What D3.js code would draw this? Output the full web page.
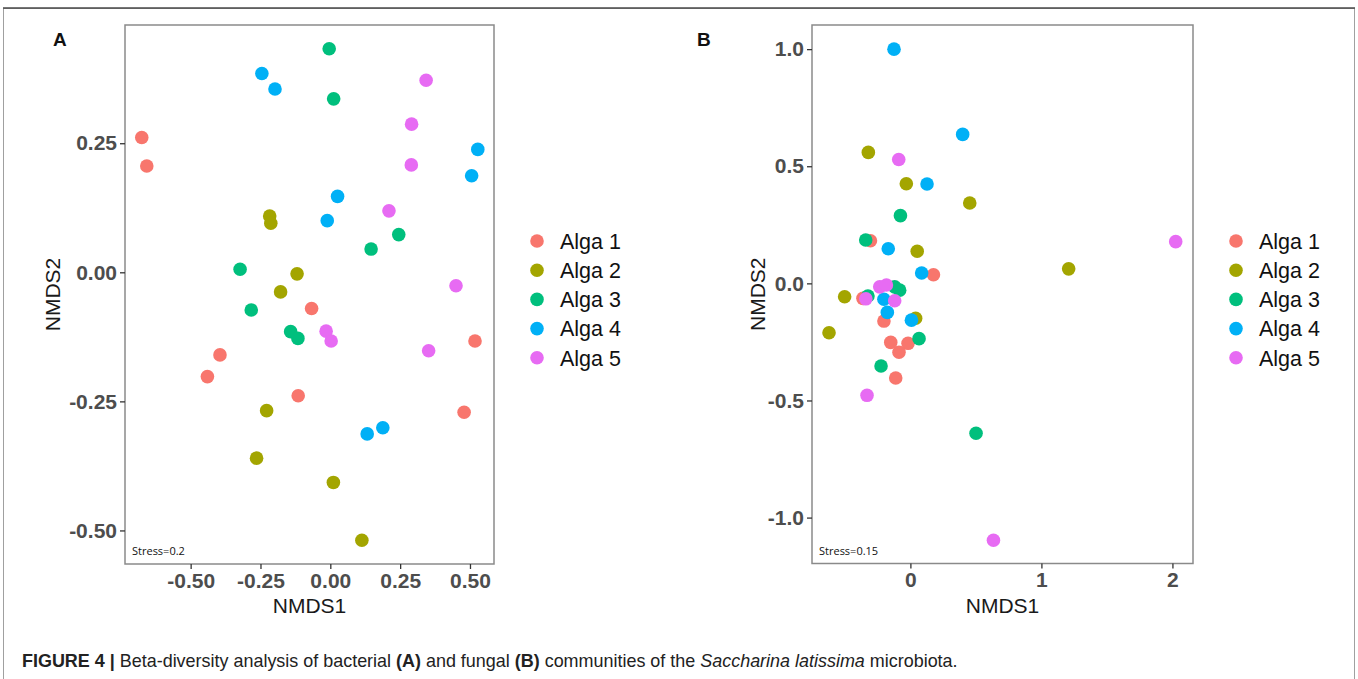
<!DOCTYPE html>
<html>
<head>
<meta charset="utf-8">
<script src="https://cdn.jsdelivr.net/npm/d3@7/dist/d3.min.js"></script>
<style>
  html, body { margin: 0; padding: 0; background: #fff; }
  svg { display: block; }
</style>
</head>
<body>
<svg id="chart" width="1358" height="679"></svg>
<script>
// ---------------- DATA ----------------
const groups = ["Alga 1", "Alga 2", "Alga 3", "Alga 4", "Alga 5"];
const colors = ["#F8766D", "#A3A500", "#00BF7D", "#00B0F6", "#E76BF3"];

// Panel A (bacterial) NMDS1, NMDS2
const bactAlga1 = [[-0.675,0.261],[-0.657,0.206],[-0.067,-0.070],[-0.395,-0.160],[-0.440,-0.202],[-0.115,-0.239],[0.518,-0.133],[0.479,-0.271]];
const bactAlga2 = [[-0.217,0.109],[-0.213,0.095],[-0.119,-0.003],[-0.178,-0.038],[-0.228,-0.268],[-0.264,-0.360],[0.011,-0.407],[0.113,-0.519]];
const bactAlga3 = [[-0.004,0.433],[0.012,0.336],[0.245,0.073],[0.146,0.045],[-0.323,0.006],[-0.283,-0.073],[-0.142,-0.115],[-0.116,-0.128]];
const bactAlga4 = [[-0.245,0.385],[-0.198,0.355],[0.528,0.238],[0.506,0.187],[0.026,0.147],[-0.011,0.100],[0.132,-0.313],[0.188,-0.301]];
const bactAlga5 = [[0.343,0.372],[0.291,0.287],[0.290,0.208],[0.210,0.119],[0.450,-0.026],[-0.015,-0.114],[0.003,-0.133],[0.352,-0.152]];

// Panel B (fungal) NMDS1, NMDS2
const fungAlga1 = [[-0.305,0.182],[0.176,0.037],[-0.362,-0.064],[-0.202,-0.161],[-0.150,-0.252],[-0.018,-0.256],[-0.087,-0.294],[-0.112,-0.404]];
const fungAlga2 = [[-0.321,0.559],[-0.031,0.425],[0.453,0.343],[0.052,0.137],[1.208,0.062],[-0.502,-0.057],[-0.621,-0.211],[0.040,-0.149]];
const fungAlga3 = [[-0.076,0.289],[-0.341,0.185],[-0.120,-0.015],[-0.082,-0.029],[-0.324,-0.054],[0.066,-0.236],[-0.224,-0.353],[0.501,-0.640]];
const fungAlga4 = [[-0.125,1.000],[0.399,0.636],[0.127,0.424],[-0.169,0.148],[0.086,0.044],[-0.202,-0.068],[-0.176,-0.124],[0.008,-0.157]];
const fungAlga5 = [[-0.340,-0.066],[-0.089,0.529],[2.025,0.178],[-0.234,-0.015],[-0.183,-0.007],[-0.120,-0.074],[-0.331,-0.478],[0.634,-1.097]];

const xTicksA = [-0.5, -0.25, 0, 0.25, 0.5];
const xTickLabelsA = ["-0.50", "-0.25", "0.00", "0.25", "0.50"];
const yTicksA = [-0.5, -0.25, 0, 0.25];
const yTickLabelsA = ["-0.50", "-0.25", "0.00", "0.25"];
const xTicksB = [0, 1, 2];
const xTickLabelsB = ["0", "1", "2"];
const yTicksB = [-1, -0.5, 0, 0.5, 1];
const yTickLabelsB = ["-1.0", "-0.5", "0.0", "0.5", "1.0"];

// ---------------- DRAWING ----------------
const svg = d3.select("#chart");
const FONT = "'Liberation Sans', Arial, Helvetica, sans-serif";

// outer figure frame
svg.append("rect").attr("x", 3.5).attr("y", 8.5).attr("width", 1351).attr("height", 700)
  .attr("fill", "none").attr("stroke", "#a0a0a0").attr("stroke-width", 1);
svg.append("line").attr("x1", 3).attr("x2", 1355).attr("y1", 8).attr("y2", 8)
  .attr("stroke", "#4a4a4a").attr("stroke-width", 1.5);

function panel(opts) {
  const x = d3.scaleLinear().domain(opts.xDomain).range([opts.left, opts.right]);
  const y = d3.scaleLinear().domain(opts.yDomain).range([opts.bottom, opts.top]);
  const g = svg.append("g");

  // plot border
  g.append("rect").attr("x", opts.left).attr("y", opts.top)
    .attr("width", opts.right - opts.left).attr("height", opts.bottom - opts.top)
    .attr("fill", "#fff").attr("stroke", "#8a8a8a").attr("stroke-width", 1.5);

  const xAxis = d3.axisBottom(x).tickValues(opts.xTicks)
    .tickFormat((d, i) => opts.xLabels[i]).tickSize(5).tickPadding(4);
  const yAxis = d3.axisLeft(y).tickValues(opts.yTicks)
    .tickFormat((d, i) => opts.yLabels[i]).tickSize(5).tickPadding(3);

  const gx = g.append("g").attr("transform", `translate(0,${opts.bottom})`).call(xAxis);
  const gy = g.append("g").attr("transform", `translate(${opts.left},0)`).call(yAxis);
  [gx, gy].forEach(a => {
    a.select(".domain").remove();
    a.selectAll(".tick line").attr("stroke", "#333").attr("stroke-width", 1.3);
    a.selectAll(".tick text").attr("fill", "#4D4D4D").style("font-family", FONT)
      .style("font-size", "21px").style("font-weight", "bold");
  });

  // axis titles
  g.append("text").attr("x", (opts.left + opts.right) / 2).attr("y", opts.bottom + 49)
    .attr("text-anchor", "middle").style("font-family", FONT).style("font-size", "21px")
    .attr("fill", "#1a1a1a").text("NMDS1");
  g.append("text")
    .attr("transform", `translate(${opts.yTitleX},${(opts.top + opts.bottom) / 2}) rotate(-90)`)
    .attr("text-anchor", "middle").style("font-family", FONT).style("font-size", "21px")
    .attr("fill", "#1a1a1a").text("NMDS2");

  // points
  opts.series.forEach((pts, gi) => {
    g.append("g").selectAll("circle").data(pts).join("circle")
      .attr("cx", d => x(d[0])).attr("cy", d => y(d[1])).attr("r", 6.8)
      .attr("fill", colors[gi]);
  });

  // stress
  g.append("text").attr("x", opts.left + 7).attr("y", opts.bottom - 9)
    .style("font-family", "'Open Sans', 'Liberation Sans', sans-serif").style("font-size", "11px")
    .attr("fill", "#111").text(opts.stress);

  // panel label
  g.append("text").attr("x", opts.labelX).attr("y", 46)
    .style("font-family", FONT).style("font-size", "19px").style("font-weight", "bold")
    .attr("fill", "#111").text(opts.label);

  // legend
  const lg = g.append("g");
  groups.forEach((name, i) => {
    const ly = 241 + i * 29.2;
    lg.append("circle").attr("cx", opts.legendX).attr("cy", ly).attr("r", 6.8).attr("fill", colors[i]);
    lg.append("text").attr("x", opts.legendX + 23).attr("y", ly).attr("dy", "0.36em")
      .style("font-family", FONT).style("font-size", "21.5px").attr("fill", "#111").text(name);
  });
}

panel({
  left: 125, right: 494, top: 25, bottom: 564,
  xDomain: [-0.735, 0.586], yDomain: [-0.565, 0.479],
  xTicks: xTicksA, xLabels: xTickLabelsA, yTicks: yTicksA, yLabels: yTickLabelsA,
  series: [bactAlga1, bactAlga2, bactAlga3, bactAlga4, bactAlga5],
  stress: "Stress=0.2", label: "A", labelX: 53, legendX: 537, yTitleX: 60
});

panel({
  left: 812, right: 1193, top: 25, bottom: 563.5,
  xDomain: [-0.751, 2.157], yDomain: [-1.196, 1.103],
  xTicks: xTicksB, xLabels: xTickLabelsB, yTicks: yTicksB, yLabels: yTickLabelsB,
  series: [fungAlga1, fungAlga2, fungAlga3, fungAlga4, fungAlga5],
  stress: "Stress=0.15", label: "B", labelX: 697, legendX: 1236, yTitleX: 765
});

// caption
const cap = svg.append("text").attr("x", 0).attr("y", 0)
  .style("font-family", FONT).style("font-size", "18px").attr("fill", "#222");
const parts = [
  ["FIGURE 4 | ", "bold", "normal"],
  ["Beta-diversity analysis of bacterial ", "normal", "normal"],
  ["(A)", "bold", "normal"],
  [" and fungal ", "normal", "normal"],
  ["(B)", "bold", "normal"],
  [" communities of the ", "normal", "normal"],
  ["Saccharina latissima", "normal", "italic"],
  [" microbiota.", "normal", "normal"]
];
parts.forEach(p => {
  cap.append("tspan").style("font-weight", p[1]).style("font-style", p[2]).text(p[0]);
});
const capLen = cap.node().getComputedTextLength();
const capTarget = 936;
cap.attr("transform", `translate(22,667) scale(${capTarget / capLen},1)`);
</script>
</body>
</html>
